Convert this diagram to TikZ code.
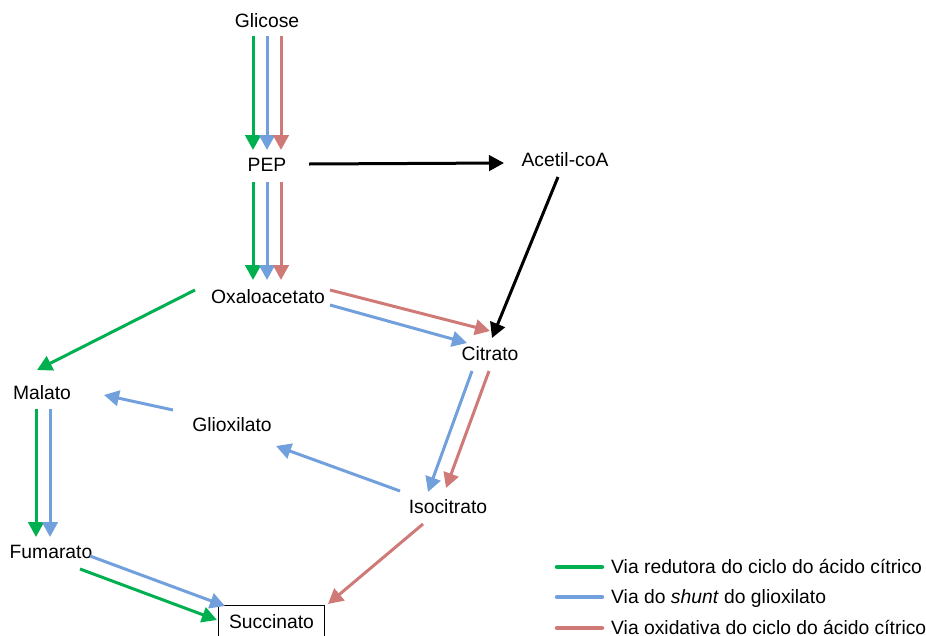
\documentclass[tikz,border=0pt]{standalone}
\usepackage{fontspec}
\setmainfont{Liberation Sans}
\usetikzlibrary{arrows.meta,calc}
\definecolor{redgreen}{HTML}{00B050}
\definecolor{shuntblue}{HTML}{72A0DC}
\definecolor{oxired}{HTML}{D07A78}
\tikzset{
  met/.style={inner sep=0pt, text height=13.8pt, text depth=0pt, font=\fontsize{19.3}{23}\selectfont},
  flow/.style={line width=3pt, -{Triangle[length=15pt,width=15.5pt]}},
  gpath/.style={flow, draw=redgreen, fill=redgreen},
  bpath/.style={flow, draw=shuntblue, fill=shuntblue},
  rpath/.style={flow, draw=oxired, fill=oxired},
  kpath/.style={flow, draw=black, fill=black},
  legline/.style={line width=4.5pt, line cap=round},
  legtext/.style={anchor=west, inner sep=0pt, text height=13.8pt, text depth=0pt, font=\fontsize{19.3}{23}\selectfont}
}
\begin{document}
\begin{tikzpicture}[x=1pt,y=-1pt]
\useasboundingbox (0,0) rectangle (926,635);

% metabolites
\node[met] (glc) at (267,21) {Glicose};
\node[met] (pep) at (267,165) {PEP};
\node[met] (acc) at (565,160) {Acetil-coA};
\node[met] (oaa) at (268,297) {Oxaloacetato};
\node[met] (cit) at (490,354) {Citrato};
\node[met] (mal) at (42,393) {Malato};
\node[met] (glx) at (232,425) {Glioxilato};
\node[met] (ict) at (448,507) {Isocitrato};
\node[met] (fum) at (51,552) {Fumarato};
\node[met, draw=black, line width=1pt, minimum width=106pt, minimum height=32pt, anchor=north west]
  (suc) at (218,605) {Succinato};

% Glicose -> PEP
\draw[gpath] ($(glc)+(-14,15)$) -- ($(pep)+(-14,-15)$);
\draw[bpath] ($(glc)+(0,15)$) -- ($(pep)+(0,-15)$);
\draw[rpath] ($(glc)+(14,15)$) -- ($(pep)+(14,-15)$);

% PEP -> Oxaloacetato
\draw[gpath] ($(pep)+(-14,17)$) -- ($(oaa)+(-15,-17)$);
\draw[bpath] ($(pep)+(0,17)$) -- ($(oaa)+(-1,-17)$);
\draw[rpath] ($(pep)+(14,17)$) -- ($(oaa)+(13,-17)$);

% PEP -> Acetil-coA -> Citrato
\draw[kpath] ($(pep)+(42,-1)$) -- ($(acc)+(-61,3)$);
\draw[kpath] ($(acc)+(-7,17)$) -- ($(cit)+(2,-16)$);

% Oxaloacetato -> Citrato
\draw[rpath] ($(oaa)+(62,-7)$) -- ($(cit)+(0,-23)$);
\draw[bpath] ($(oaa)+(62,8)$) -- ($(cit)+(-23,-11)$);

% Citrato -> Isocitrato
\draw[bpath] ($(cit)+(-18,17)$) -- ($(ict)+(-20,-15)$);
\draw[rpath] ($(cit)+(-1,17)$) -- ($(ict)+(-2,-19)$);

% Isocitrato -> Glioxilato -> Malato
\draw[bpath] ($(ict)+(-48,-16)$) -- ($(glx)+(44,21)$);
\draw[bpath] ($(glx)+(-59,-15)$) -- ($(mal)+(62,2)$);

% Oxaloacetato -> Malato
\draw[gpath] ($(oaa)+(-73,-7)$) -- ($(mal)+(-5,-23)$);

% Malato -> Fumarato
\draw[gpath] ($(mal)+(-6,16)$) -- ($(fum)+(-15,-15)$);
\draw[bpath] ($(mal)+(8,16)$) -- ($(fum)+(-1,-15)$);

% Fumarato -> Succinato
\draw[bpath] ($(fum)+(39,4)$) -- ($(suc.north west)+(7,1)$);
\draw[gpath] ($(fum)+(29,17)$) -- ($(suc.north west)+(-1,15)$);

% Isocitrato -> Succinato
\draw[rpath] ($(ict)+(-25,17)$) -- ($(suc.north east)+(3,-1)$);

% legend
\coordinate (lg1a) at (557,567); \coordinate (lg1b) at (602,567);
\coordinate (lg2a) at (557,597); \coordinate (lg2b) at (602,597);
\coordinate (lg3a) at (557,628); \coordinate (lg3b) at (602,628);
\draw[legline, redgreen] (lg1a) -- (lg1b);
\draw[legline, shuntblue] (lg2a) -- (lg2b);
\draw[legline, oxired] (lg3a) -- (lg3b);
\node[legtext] (lt1) at (611,567) {Via redutora do ciclo do ácido cítrico};
\node[legtext] (lt2) at (611,597) {Via do \textit{shunt} do glioxilato};
\node[legtext] (lt3) at (611,628) {Via oxidativa do ciclo do ácido cítrico};
\end{tikzpicture}
\end{document}
